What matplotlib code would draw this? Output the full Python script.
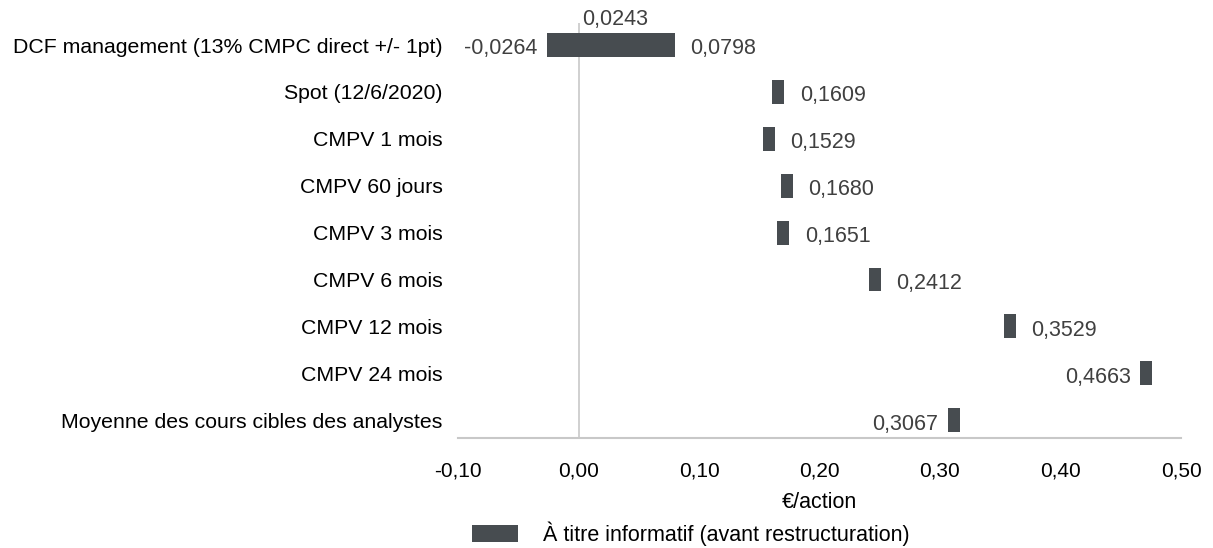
import numpy as np
import matplotlib.pyplot as plt

plt.rcParams['font.family'] = ['Liberation Sans', 'DejaVu Sans']

# données
categories = ["DCF management (13% CMPC direct +/- 1pt)", "Spot (12/6/2020)", "CMPV 1 mois",
              "CMPV 60 jours", "CMPV 3 mois", "CMPV 6 mois", "CMPV 12 mois", "CMPV 24 mois",
              "Moyenne des cours cibles des analystes"]
low = [-0.0264, 0.1609, 0.1529, 0.1680, 0.1651, 0.2412, 0.3529, 0.4663, 0.3067]
high = [0.0798, 0.1709, 0.1629, 0.1780, 0.1751, 0.2512, 0.3629, 0.4763, 0.3167]
dcf_mid = 0.0243
label_side = ["both", "right", "right", "right", "right", "right", "right", "left", "left"]
xticks = [-0.10, 0.0, 0.10, 0.20, 0.30, 0.40, 0.50]
legend_label = "À titre informatif (avant restructuration)"

bar_color = "#474c50"
txt_color = "#404040"
line_color = "#c8c8c8"
fs = 15.5

def fr(v, n=4):
    return f"{v:.{n}f}".replace(".", ",")

fig = plt.figure(figsize=(12.13, 5.48), dpi=100)
ax = fig.add_axes([458 / 1213, 1 - 438 / 548, (1181 - 458) / 1213, 415 / 548])

y = np.arange(len(categories))
widths = np.array(high) - np.array(low)
ax.barh(y, widths, left=low, height=0.51, color=bar_color, label=legend_label, zorder=3)

for i in range(len(categories)):
    if label_side[i] in ("right", "both"):
        v = low[i] if label_side[i] == "right" else high[i]
        ax.annotate(fr(v), (high[i], y[i]), xytext=(11, -1), textcoords="offset points",
                    ha="left", va="center_baseline", fontsize=fs, color=txt_color)
    if label_side[i] in ("left", "both"):
        ax.annotate(fr(low[i]), (low[i], y[i]), xytext=(-7, -1), textcoords="offset points",
                    ha="right", va="center_baseline", fontsize=fs, color=txt_color)

ax.annotate(fr(dcf_mid), ((low[0] + high[0]) / 2, y[0]), xytext=(3, 11), textcoords="offset points",
            ha="center", va="bottom", fontsize=fs, color=txt_color)

ax.axvline(0, color=line_color, lw=1.2, zorder=1)
ax.set_xlim(-0.10, 0.50)
ax.set_ylim(8.38, -0.47)
ax.set_yticks(y)
ax.set_yticklabels(categories, fontsize=15.3, color="black")
ax.set_xticks(xticks)
ax.set_xticklabels([fr(t, 2) for t in xticks], fontsize=15, color="black")
ax.tick_params(axis="both", length=0)
ax.tick_params(axis="y", pad=11)
ax.tick_params(axis="x", pad=17)
for s in ["top", "right", "left"]:
    ax.spines[s].set_visible(False)
ax.spines["bottom"].set_color(line_color)
ax.spines["bottom"].set_linewidth(1.5)
ax.set_xlabel("€/action", fontsize=fs, labelpad=8)

fig.legend(loc="center left", bbox_to_anchor=(453 / 1213, 1 - 534 / 548), frameon=False,
           fontsize=fs, handlelength=2.1, handleheight=0.84, handletextpad=1.2)

fig.savefig("out.png", dpi=100)
